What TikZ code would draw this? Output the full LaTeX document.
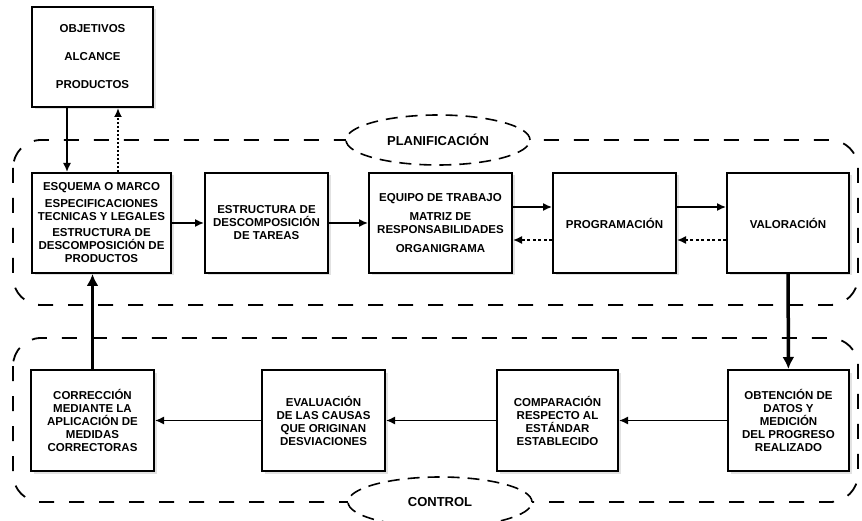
\documentclass[tikz,border=0pt]{standalone}
\usepackage{fontspec}
\setmainfont{Liberation Sans}
\usetikzlibrary{positioning,shapes.geometric,shadows,arrows.meta}
\tikzset{>={Latex[length=9pt,width=8pt]}}
\tikzset{
  stage/.style={draw, line width=2pt, fill=white, minimum height=100pt, inner sep=1pt, align=center,
    font=\bfseries\fontsize{11.5}{13}\selectfont,
    drop shadow={shadow xshift=2.5pt, shadow yshift=-2.5pt, fill=gray!45}},
  zone/.style={line width=1.8pt, dash pattern=on 15pt off 15pt, rounded corners=28pt},
  zonelabel/.style={draw, ellipse, line width=1.6pt, dash pattern=on 12pt off 8pt, fill=white,
    minimum width=184pt, minimum height=50pt, font=\bfseries\fontsize{13}{15}\selectfont},
  flow/.style={->, line width=1.5pt},
  back/.style={->, line width=1.5pt, dash pattern=on 3pt off 2.5pt},
  main/.style={-{Latex[length=12pt,width=12pt]}, line width=3.5pt}
}

\begin{document}
\begin{tikzpicture}[x=1pt, y=-1pt]
  \useasboundingbox[fill=white] (0,0) rectangle (862,521);
  \draw[zone] (13,140) rectangle (858,305);
  \draw[zone] (13,338) rectangle (858,502);
  \node[zonelabel] (plan) at (438,140) {PLANIFICACIÓN};
  \node[zonelabel] (ctrl) at (440,502) {CONTROL};

  \node[stage, minimum width=121pt] (obj) at (92.5,57) {OBJETIVOS\\[15pt]ALCANCE\\[15pt]PRODUCTOS};
  \node[stage, minimum width=139pt] (esq) at (101.5,223) {ESQUEMA O MARCO\\[4pt]ESPECIFICACIONES\\TECNICAS Y LEGALES\\[3pt]ESTRUCTURA DE\\DESCOMPOSICIÓN DE\\PRODUCTOS};
  \node[stage, minimum width=123pt, right of=esq, node distance=165pt] (edt) {ESTRUCTURA DE\\DESCOMPOSICIÓN\\DE TAREAS};
  \node[stage, minimum width=143pt, right of=edt, node distance=174pt] (equipo) {EQUIPO DE TRABAJO\\[6pt]MATRIZ DE\\RESPONSABILIDADES\\[6pt]ORGANIGRAMA};
  \node[stage, minimum width=123pt, right of=equipo, node distance=174pt] (prog) {PROGRAMACIÓN};
  \node[stage, minimum width=122pt, right of=prog, node distance=173.5pt] (val) {VALORACIÓN};

  \node[stage, minimum width=121pt, minimum height=101pt] (obt) at (788.5,420.5) {OBTENCIÓN DE\\DATOS Y\\MEDICIÓN\\DEL PROGRESO\\REALIZADO};
  \node[stage, minimum width=121pt, minimum height=101pt, left of=obt, node distance=231pt] (comp) {COMPARACIÓN\\RESPECTO AL\\ESTÁNDAR\\ESTABLECIDO};
  \node[stage, minimum width=123pt, minimum height=101pt, left of=comp, node distance=234pt] (eval) {EVALUACIÓN\\DE LAS CAUSAS\\QUE ORIGINAN\\DESVIACIONES};
  \node[stage, minimum width=123pt, minimum height=101pt, left of=eval, node distance=231pt] (corr) {CORRECCIÓN\\MEDIANTE LA\\APLICACIÓN DE\\MEDIDAS\\CORRECTORAS};

  \draw[flow] ([xshift=-25.5pt]obj.south) -- ([xshift=-25.5pt]obj.south |- esq.north);
  \draw[->, line width=1.8pt, dash pattern=on 2pt off 2pt] ([xshift=25.5pt]obj.south |- esq.north) -- ([xshift=25.5pt]obj.south);
  \draw[flow] (esq) -- (edt);
  \draw[flow] (edt) -- (equipo);
  \draw[flow] ([yshift=16pt]equipo.east) -- ([yshift=16pt]prog.west);
  \draw[back] ([yshift=-17pt]prog.west) -- ([yshift=-17pt]equipo.east);
  \draw[flow] ([yshift=16pt]prog.east) -- ([yshift=16pt]val.west);
  \draw[back] ([yshift=-17pt]val.west) -- ([yshift=-17pt]prog.east);
  \draw[main] (val) -- (obt);
  \draw[flow] (obt) -- (comp);
  \draw[flow] (comp) -- (eval);
  \draw[flow] (eval) -- (corr);
  \draw[main] (corr.north) -- (corr.north |- esq.south);
\end{tikzpicture}
\end{document}
